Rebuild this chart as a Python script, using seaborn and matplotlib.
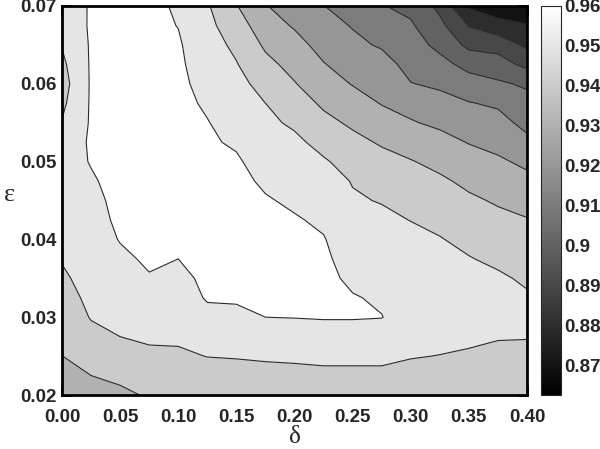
import numpy as np
import pandas as pd
import matplotlib
matplotlib.use("Agg")
import matplotlib.pyplot as plt
import matplotlib.cm as cm
from matplotlib.colors import Normalize
import seaborn as sns

# ---------------- data ----------------
delta = [0.0, 0.025, 0.05, 0.075, 0.1, 0.125, 0.15, 0.175, 0.2,
         0.225, 0.25, 0.275, 0.3, 0.325, 0.35, 0.375, 0.4]
epsilon = [0.02, 0.0225, 0.025, 0.0275, 0.03, 0.0325, 0.035, 0.0375, 0.04,
           0.0425, 0.045, 0.0475, 0.05, 0.0525, 0.055, 0.0575, 0.06,
           0.0625, 0.065, 0.0675, 0.07]

# one list per delta column, values from epsilon=0.02 (first) up to 0.07 (last)
z_d0000 = [0.9255, 0.9278, 0.9299, 0.932, 0.9343, 0.9365, 0.9387, 0.9405, 0.942, 0.944, 0.945,
           0.946, 0.946, 0.945, 0.9405, 0.938, 0.936, 0.938, 0.9405, 0.944, 0.945]
z_d0025 = [0.927, 0.930, 0.934, 0.9375, 0.9405, 0.942, 0.943, 0.944, 0.945, 0.946, 0.947,
           0.949, 0.9505, 0.951, 0.951, 0.951, 0.951, 0.951, 0.951, 0.951, 0.9508]
z_d0050 = [0.928, 0.932, 0.936, 0.940, 0.9425, 0.9445, 0.946, 0.948, 0.9505, 0.952, 0.953,
           0.953, 0.953, 0.953, 0.953, 0.953, 0.953, 0.953, 0.953, 0.953, 0.953]
z_d0075 = [0.931, 0.934, 0.938, 0.9415, 0.944, 0.9465, 0.9493, 0.9515, 0.9525, 0.9525, 0.9525,
           0.9525, 0.9525, 0.9525, 0.9525, 0.9525, 0.9525, 0.9525, 0.9525, 0.9522, 0.952]
z_d0100 = [0.9325, 0.935, 0.9385, 0.9415, 0.9435, 0.9455, 0.9475, 0.950, 0.951, 0.952, 0.952,
           0.952, 0.952, 0.952, 0.952, 0.952, 0.952, 0.9515, 0.951, 0.9498, 0.949]
z_d0125 = [0.933, 0.936, 0.9402, 0.9435, 0.9475, 0.9508, 0.952, 0.9525, 0.9525, 0.9525, 0.9525,
           0.9525, 0.9525, 0.951, 0.9503, 0.949, 0.947, 0.9455, 0.944, 0.9425, 0.941]
z_d0150 = [0.9335, 0.937, 0.9405, 0.944, 0.948, 0.951, 0.9525, 0.9525, 0.9525, 0.9525, 0.9525,
           0.9525, 0.951, 0.949, 0.947, 0.945, 0.943, 0.9405, 0.938, 0.9345, 0.9305]
z_d0175 = [0.934, 0.9375, 0.941, 0.9455, 0.950, 0.9515, 0.952, 0.952, 0.952, 0.952, 0.9508,
           0.9485, 0.9465, 0.9445, 0.942, 0.940, 0.9365, 0.9325, 0.9285, 0.9245, 0.9205]
z_d0200 = [0.934, 0.9375, 0.9415, 0.946, 0.9502, 0.952, 0.952, 0.952, 0.952, 0.9508, 0.9485,
           0.9465, 0.9445, 0.942, 0.9385, 0.9345, 0.9305, 0.927, 0.9235, 0.919, 0.9155]
z_d0225 = [0.9345, 0.938, 0.942, 0.9465, 0.9505, 0.952, 0.952, 0.9515, 0.9505, 0.9485, 0.9465,
           0.944, 0.941, 0.937, 0.9325, 0.9285, 0.9245, 0.9205, 0.9165, 0.913, 0.9102]
z_d0250 = [0.9345, 0.938, 0.942, 0.9465, 0.9505, 0.9505, 0.9485, 0.9465, 0.9445, 0.9425, 0.941,
           0.9395, 0.9365, 0.9325, 0.9285, 0.9245, 0.9195, 0.9155, 0.912, 0.9095, 0.906]
z_d0275 = [0.9345, 0.938, 0.942, 0.946, 0.9502, 0.949, 0.9475, 0.946, 0.9445, 0.942, 0.9395,
           0.9365, 0.933, 0.929, 0.9245, 0.9195, 0.9165, 0.9135, 0.909, 0.9045, 0.9005]
z_d0300 = [0.9335, 0.937, 0.9405, 0.944, 0.9465, 0.9475, 0.9465, 0.945, 0.9425, 0.9398, 0.9365,
           0.9335, 0.9305, 0.926, 0.9208, 0.9165, 0.9103, 0.907, 0.904, 0.9012, 0.8975]
z_d0325 = [0.933, 0.9362, 0.9398, 0.9425, 0.9445, 0.9455, 0.945, 0.9435, 0.9405, 0.9375, 0.9345,
           0.9315, 0.9275, 0.9235, 0.918, 0.913, 0.9085, 0.903, 0.8975, 0.8925, 0.8875]
z_d0350 = [0.9325, 0.9355, 0.939, 0.9415, 0.9435, 0.9445, 0.9435, 0.9405, 0.9375, 0.9345, 0.9315,
           0.928, 0.9245, 0.9195, 0.9145, 0.9105, 0.904, 0.897, 0.8875, 0.8795, 0.8685]
z_d0375 = [0.932, 0.935, 0.938, 0.9405, 0.9425, 0.943, 0.9415, 0.938, 0.9352, 0.9322, 0.929,
           0.9255, 0.9215, 0.917, 0.9135, 0.9085, 0.9015, 0.894, 0.8865, 0.8735, 0.864]
z_d0400 = [0.9315, 0.934, 0.937, 0.9405, 0.9415, 0.9412, 0.9385, 0.936, 0.9335, 0.9305, 0.9265,
           0.9225, 0.918, 0.9125, 0.907, 0.9035, 0.8985, 0.8875, 0.878, 0.8705, 0.863]

columns = [z_d0000, z_d0025, z_d0050, z_d0075, z_d0100, z_d0125, z_d0150, z_d0175, z_d0200,
           z_d0225, z_d0250, z_d0275, z_d0300, z_d0325, z_d0350, z_d0375, z_d0400]

levels = [0.86, 0.87, 0.88, 0.89, 0.90, 0.91, 0.92, 0.93, 0.94, 0.95, 0.96]
cbar_ticks = [0.87, 0.88, 0.89, 0.90, 0.91, 0.92, 0.93, 0.94, 0.95, 0.96]
x_ticks = [0.00, 0.05, 0.10, 0.15, 0.20, 0.25, 0.30, 0.35, 0.40]
y_ticks = [0.02, 0.03, 0.04, 0.05, 0.06, 0.07]

# ---------------- build table ----------------
rows = []
for d, col in zip(delta, columns):
    for e, v in zip(epsilon, col):
        rows.append({"delta": d, "epsilon": e, "value": v})
df = pd.DataFrame(rows)
grid = df.pivot(index="epsilon", columns="delta", values="value")
D, E = np.meshgrid(grid.columns.values, grid.index.values)
Z = grid.values

sns.set_theme(style="ticks")
plt.rcParams['font.family'] = ['Liberation Sans', 'DejaVu Sans']

cmap = plt.get_cmap("gray")
norm = Normalize(vmin=0.8625, vmax=0.96)
band_colors = [cmap(norm(levels[i + 1])) for i in range(len(levels) - 1)]

fig = plt.figure(figsize=(6.0, 4.49), dpi=100)
ax = fig.add_axes([62 / 600, 1 - 395 / 449, 465 / 600, 389 / 449])
ax.contourf(D, E, Z, levels=levels, colors=band_colors)
ax.contour(D, E, Z, levels=levels[1:-1], colors="#2a2a2a", linewidths=0.8)
ax.set_xlim(0.0, 0.4)
ax.set_ylim(0.02, 0.07)

ax.set_xticks(x_ticks)
ax.set_yticks(y_ticks)
ax.set_xticklabels([f"{t:.2f}" for t in x_ticks])
ax.set_yticklabels([f"{t:.2f}" for t in y_ticks])
ax.tick_params(axis="both", which="both", direction="in", length=7, width=2,
               top=True, right=True, labelsize=13.5, color="black")
ax.tick_params(axis="x", pad=10)
ax.tick_params(axis="y", pad=4)
for lab in ax.get_xticklabels() + ax.get_yticklabels():
    lab.set_fontweight("bold")
for sp in ax.spines.values():
    sp.set_linewidth(2)
    sp.set_color("black")

ax.set_xlabel("δ", fontsize=18, family=["Liberation Serif", "DejaVu Serif"], va="baseline")
ax.set_ylabel("ε", fontsize=19, rotation=0, family=["Liberation Serif", "DejaVu Serif"])
ax.xaxis.set_label_coords(0.5, (395 - 443) / 389)
ax.yaxis.set_label_coords(-0.112, 0.485)

cax = fig.add_axes([541 / 600, 1 - 395 / 449, 20 / 600, 389 / 449])
sm = cm.ScalarMappable(norm=norm, cmap=cmap)
cb = fig.colorbar(sm, cax=cax)
cb.set_ticks(cbar_ticks)
cb.set_ticklabels([f"{t:g}" for t in cbar_ticks])
cb.outline.set_linewidth(0.8)
cax.tick_params(direction="in", length=3, width=0.6, left=True, right=True,
                labelsize=13.5, pad=2)
for lab in cax.get_yticklabels():
    lab.set_fontweight("bold")

fig.savefig("out.png", dpi=100)
